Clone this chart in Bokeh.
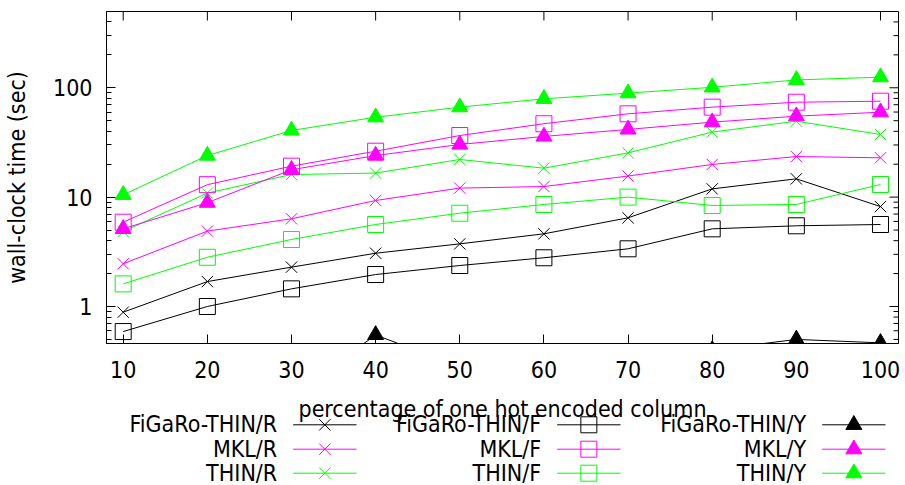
import math
from bokeh.plotting import figure
from bokeh.models import Range1d, FixedTicker
from bokeh.layouts import column
from bokeh.embed import file_html
from bokeh.resources import INLINE
from bokeh.core.properties import value

# ---------------- data ----------------
PCT = [10, 20, 30, 40, 50, 60, 70, 80, 90, 100]

FIGARO_R = [0.887, 1.69, 2.29, 3.07, 3.74, 4.62, 6.47, 11.9, 14.7, 8.2]
MKL_R = [2.46, 4.89, 6.34, 9.32, 12.1, 12.5, 15.6, 19.9, 23.5, 22.9]
THIN_R = [4.85, 10.9, 16.1, 16.6, 22.1, 18.4, 25.4, 39.3, 49.5, 37.4]

FIGARO_F = [0.59, 1.0, 1.45, 1.96, 2.37, 2.79, 3.37, 5.13, 5.47, 5.62]
MKL_F = [5.9, 13.0, 19.2, 26.3, 36.6, 46.9, 57.8, 66.5, 73.8, 75.4]
THIN_F = [1.61, 2.82, 4.1, 5.62, 7.13, 8.57, 10.0, 8.39, 8.57, 13.05]

FIGARO_Y = [0.1, 0.12, 0.15, 0.55, 0.28, 0.3, 0.32, 0.40, 0.50, 0.465]
MKL_Y = [5.13, 8.9, 17.8, 24.0, 30.3, 35.9, 41.6, 48.5, 55.0, 59.8]
THIN_Y = [10.5, 24.0, 40.7, 53.8, 66.5, 79.3, 89.3, 101.0, 118.0, 125.0]

X_TICKS = PCT
Y_TICKS = [1, 10, 100]
Y_TICK_LABELS = ["1", "10", "100"]
Y_MINOR = [0.5, 0.6, 0.7, 0.8, 0.9, 2, 3, 4, 5, 6, 7, 8, 9,
           20, 30, 40, 50, 60, 70, 80, 90, 200, 300, 400]

X_LABEL = "percentage of one hot encoded column"
Y_LABEL = "wall-clock time (sec)"

BLACK, MAGENTA, GREEN = "#000000", "#ff00ff", "#00ff00"

SERIES = [
    ("FiGaRo-THIN/R", FIGARO_R, BLACK, "x"),
    ("MKL/R", MKL_R, MAGENTA, "x"),
    ("THIN/R", THIN_R, GREEN, "x"),
    ("FiGaRo-THIN/F", FIGARO_F, BLACK, "square"),
    ("MKL/F", MKL_F, MAGENTA, "square"),
    ("THIN/F", THIN_F, GREEN, "square"),
    ("FiGaRo-THIN/Y", FIGARO_Y, BLACK, "triangle"),
    ("MKL/Y", MKL_Y, MAGENTA, "triangle"),
    ("THIN/Y", THIN_Y, GREEN, "triangle"),
]

FONT = "DejaVu Sans Condensed, DejaVu Sans"
FSIZE = "23px"
MSIZE = {"x": 16, "square": 16, "triangle": 16}

X_MIN, X_MAX = 8.015, 102.14
Y_MIN, Y_MAX = 0.4588, 498.4

# ---------------- layout constants (pixels) ----------------
W = 905
MAIN_H = 392
LEG_H = 93
BORDER_L, BORDER_R = 106, 7

# ---------------- main plot ----------------
p = figure(width=W, height=MAIN_H, y_axis_type="log",
           x_range=Range1d(X_MIN, X_MAX), y_range=Range1d(Y_MIN, Y_MAX),
           output_backend="svg", toolbar_location=None,
           min_border_left=BORDER_L, min_border_right=BORDER_R,
           min_border_top=11, min_border_bottom=49)
p.outline_line_color = "black"
p.outline_line_width = 1
p.background_fill_color = "white"
p.border_fill_color = "white"
p.xgrid.visible = False
p.ygrid.visible = False


def style_axis(ax):
    ax.major_tick_in = 9
    ax.major_tick_out = 0
    ax.minor_tick_in = 5
    ax.minor_tick_out = 0
    ax.axis_line_color = "black"
    ax.major_tick_line_color = "black"
    ax.minor_tick_line_color = "black"
    ax.major_label_text_font = FONT
    ax.major_label_text_font_size = FSIZE
    ax.major_label_text_color = "black"


xax = p.xaxis[0]
xax.ticker = FixedTicker(ticks=X_TICKS, minor_ticks=[])
style_axis(xax)
xax.major_label_standoff = 17

yax = p.yaxis[0]
yax.ticker = FixedTicker(ticks=Y_TICKS, minor_ticks=Y_MINOR)
style_axis(yax)
yax.major_label_overrides = {t: s for t, s in zip(Y_TICKS, Y_TICK_LABELS)}
yax.major_label_standoff = 14
yax.axis_label = Y_LABEL
yax.axis_label_text_font = FONT
yax.axis_label_text_font_size = FSIZE
yax.axis_label_text_font_style = "normal"
yax.axis_label_text_color = "black"
yax.axis_label_standoff = 20

# mirrored inward ticks on the top and right edges
p.ray(x=X_TICKS, y=[Y_MAX] * len(X_TICKS), length=9, length_units="screen",
      angle=-math.pi / 2, line_color="black", line_width=1)
p.ray(x=[X_MAX] * len(Y_TICKS), y=Y_TICKS, length=9, length_units="screen",
      angle=math.pi, line_color="black", line_width=1)
p.ray(x=[X_MAX] * len(Y_MINOR), y=Y_MINOR, length=5, length_units="screen",
      angle=math.pi, line_color="black", line_width=1)

for label, vals, color, marker in SERIES:
    p.line(PCT, vals, line_color=color, line_width=1)
    filled = marker == "triangle"
    p.scatter(PCT, vals, marker=marker, size=MSIZE[marker],
              line_color=color, line_width=1,
              fill_color=color if filled else None)

# ---------------- legend / x label panel (x in page pixels) ----------------
lg = figure(width=W, height=LEG_H,
            x_range=Range1d(BORDER_L, W - BORDER_R), y_range=Range1d(LEG_H, 0),
            output_backend="svg", toolbar_location=None,
            x_axis_location=None, y_axis_location=None,
            min_border_left=BORDER_L, min_border_right=BORDER_R,
            min_border_top=0, min_border_bottom=0)
lg.outline_line_color = None
lg.xgrid.visible = False
lg.ygrid.visible = False
lg.background_fill_color = "white"
lg.border_fill_color = "white"

TEXT_SHIFT = -8  # compensates the text glyph's baseline placement

lg.text(x=[(BORDER_L + W - BORDER_R) / 2], y=[23 + TEXT_SHIFT + 1], text=[X_LABEL],
        text_align="center", text_baseline="alphabetic", text_font=value(FONT),
        text_font_size=FSIZE, text_color="black")

COL_RIGHT = [276.7, 540.7, 805.7]
SAMPLE_GAP = 16
SAMPLE_LEN = 63.3
ROW_LINE = [32.3, 56.7, 80.7]
ROW_BASE_OFF = 7.5 + TEXT_SHIFT

for i, (label, vals, color, marker) in enumerate(SERIES):
    c, r = i // 3, i % 3
    xr = COL_RIGHT[c]
    yl = ROW_LINE[r]
    lg.text(x=[xr], y=[yl + ROW_BASE_OFF], text=[label], text_align="right",
            text_baseline="alphabetic", text_font=value(FONT),
            text_font_size=FSIZE, text_color="black")
    x0 = xr + SAMPLE_GAP
    x1 = x0 + SAMPLE_LEN
    lg.segment(x0=[x0], y0=[yl], x1=[x1], y1=[yl], line_color=color, line_width=1)
    filled = marker == "triangle"
    lg.scatter(x=[(x0 + x1) / 2], y=[yl], marker=marker, size=MSIZE[marker],
               line_color=color, line_width=1,
               fill_color=color if filled else None)

layout = column(p, lg)
open("out.html", "w").write(file_html(layout, INLINE))
